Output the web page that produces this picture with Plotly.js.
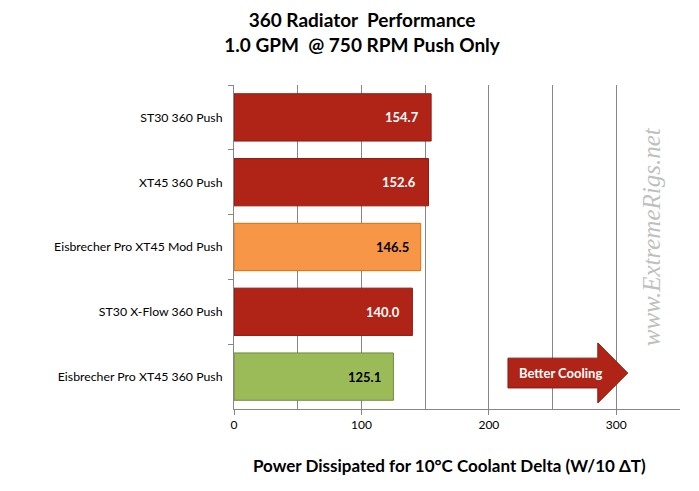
<!DOCTYPE html>
<html>
<head>
<meta charset="utf-8">
<script src="https://cdn.plot.ly/plotly-3.0.1.min.js"></script>
<style>html,body{margin:0;padding:0;background:#fff}#chart{width:699px;height:491px}</style>
</head>
<body>
<div id="chart"></div>
<script>
// radiator results, top to bottom as in the chart
const radiators = ['ST30 360 Push', 'XT45 360 Push', 'Eisbrecher Pro XT45 Mod Push', 'ST30 X-Flow 360 Push', 'Eisbrecher Pro XT45 360 Push'];
const watts = [154.7, 152.6, 146.5, 140.0, 125.1];
const fills = ['#B02418', '#B02418', '#F79646', '#B02418', '#9BBB59'];
const edges = ['#8C1A10', '#8C1A10', '#E46C0A', '#8C1A10', '#71893F'];
const labelColors = ['#ffffff', '#ffffff', '#000000', '#ffffff', '#000000'];
const xTicks = [0, 100, 200, 300];

const font = 'Lato, "Open Sans", sans-serif';

const labels = radiators.map((r, i) => ({
  x: watts[i], y: r, xref: 'x', yref: 'y',
  text: '<b>' + watts[i].toFixed(1) + '</b>',
  showarrow: false, xanchor: 'right', xshift: -10,
  font: {family: font, size: 13, color: labelColors[i]}
}));

Plotly.newPlot('chart', [{
  type: 'bar', orientation: 'h',
  x: watts, y: radiators,
  marker: {color: fills, line: {color: edges, width: 1}},
  hoverinfo: 'none'
}], {
  width: 699, height: 491,
  margin: {l: 234, r: 19, t: 85, b: 82},
  paper_bgcolor: '#fff', plot_bgcolor: '#fff',
  font: {family: font, size: 12, color: '#000'},
  showlegend: false,
  bargap: 0.27,
  title: {
    text: '<b>360 Radiator  Performance<br>1.0 GPM  @ 750 RPM Push Only</b>',
    x: 0.518, xanchor: 'center', yref: 'container', y: 0.945, yanchor: 'top',
    font: {family: font, size: 19, color: '#000'}
  },
  xaxis: {
    range: [0, 350], tickvals: xTicks,
    ticks: 'outside', ticklen: 5, tickcolor: '#868686',
    showline: true, linecolor: '#868686',
    showgrid: true, gridcolor: '#868686',
    minor: {dtick: 50, tick0: 0, showgrid: true, gridcolor: '#868686', ticks: ''},
    zeroline: false,
    tickfont: {size: 12}
  },
  yaxis: {
    autorange: 'reversed', tickson: 'boundaries',
    ticks: 'outside', ticklen: 5, tickcolor: '#868686',
    showline: true, linecolor: '#868686',
    showgrid: false, ticklabelstandoff: 8,
    tickfont: {size: 12.3}
  },
  shapes: [{
    type: 'path', xref: 'x', yref: 'paper',
    path: 'M 215 0.157 L 285.5 0.157 L 285.5 0.204 L 309 0.111 L 285.5 0.0185 L 285.5 0.065 L 215 0.065 Z',
    fillcolor: '#B02418', line: {color: '#8C1A10', width: 1}
  }],
  annotations: labels.concat([{
    x: 0.5, y: 0, xref: 'paper', yref: 'paper', xanchor: 'center', yanchor: 'middle',
    xshift: -8, yshift: -56,
    text: '<b>Power Dissipated for 10°C Coolant Delta (W/10 ΔT)</b>', showarrow: false,
    font: {family: font, size: 17, color: '#000'}
  }, {
    x: 256, y: 0.111, xref: 'x', yref: 'paper', xanchor: 'center', yanchor: 'middle',
    text: '<b>Better Cooling</b>', showarrow: false,
    font: {family: font, size: 13, color: '#fff'}
  }, {
    x: 0.935, y: 0.53, xref: 'paper', yref: 'paper', xanchor: 'center', yanchor: 'middle',
    text: 'www.ExtremeRigs.net', showarrow: false, textangle: -90,
    font: {family: '"Liberation Serif", "DejaVu Serif", serif', size: 25, color: '#BFBFBF', style: 'italic'}
  }])
}, {staticPlot: true});
</script>
</body>
</html>
